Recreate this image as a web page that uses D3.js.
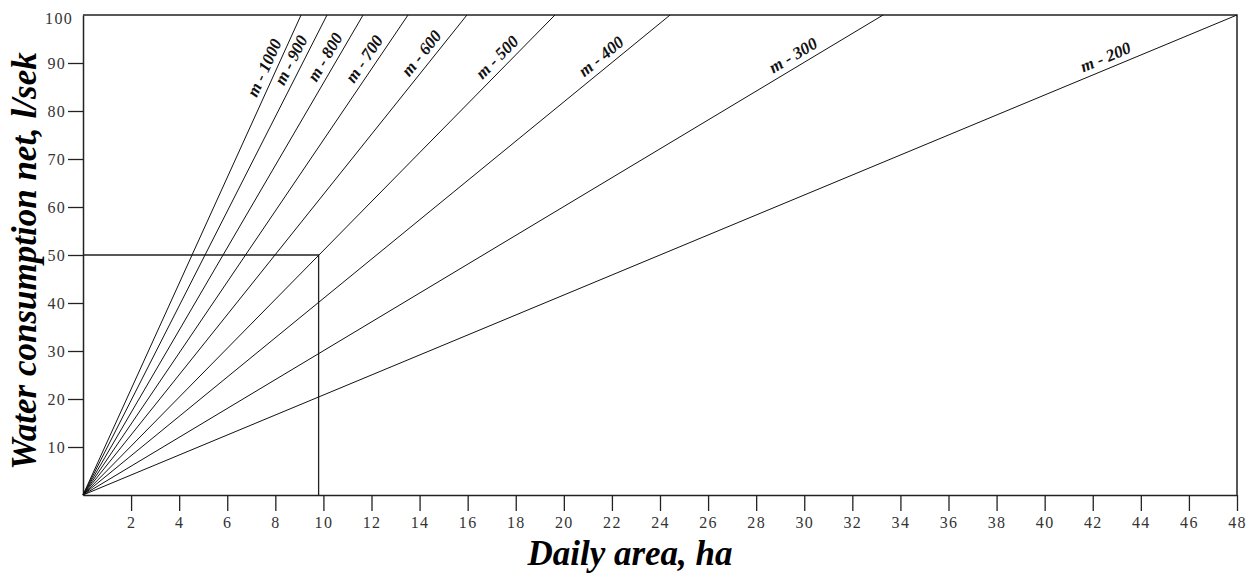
<!DOCTYPE html>
<html>
<head>
<meta charset="utf-8">
<script src="https://cdn.jsdelivr.net/npm/d3@7"></script>
<style>
  body { margin: 0; background: #fff; }
  svg { display: block; font-family: "Liberation Serif", "Times New Roman", serif; }
  .tick text { font-size: 16px; fill: #333; letter-spacing: 1.3px; }
  .tick line, .domain { stroke: #222; }
</style>
</head>
<body>
<svg id="chart" width="1247" height="573"></svg>
<script>
// daily area (ha) vs. net water consumption (l/sek), one line per rate m
var areaTicks = d3.range(2, 49, 2);
var flowTicks = d3.range(10, 101, 10);
var mValues = [1000, 900, 800, 700, 600, 500, 400, 300, 200];
// area where each line hits 100 l/sek
var areaAt100 = [9.07, 10.15, 11.65, 13.52, 15.97, 19.63, 24.42, 33.28, 48];
// flow along each line where its label sits
var labelFlow = [88, 89.5, 90, 89.5, 90.5, 89.5, 89.5, 89.5, 89];
// worked example: 50 l/sek -> 9.8 ha
var guideArea = 9.8, guideFlow = 50;

var svg = d3.select("#chart");
var plotL = 83, plotR = 1237, plotT = 15, plotB = 495;
var serif = '"Liberation Serif", "Times New Roman", serif';

var x = d3.scaleLinear().domain([0, 48]).range([plotL, plotR]);
var y = d3.scaleLinear().domain([0, 100]).range([plotB, plotT]);

// frame (top + right edges)
svg.append("path")
  .attr("d", "M" + x(0) + "," + y(100) + "H" + x(48) + "V" + y(0))
  .attr("fill", "none").attr("stroke", "#222").attr("stroke-width", 1.5);

var xAxis = svg.append("g")
  .attr("transform", "translate(0," + plotB + ")")
  .call(d3.axisBottom(x).tickValues(areaTicks).tickSize(16).tickSizeOuter(0).tickPadding(6))
  .attr("font-family", serif).attr("font-size", 16);
xAxis.select(".domain").attr("stroke-width", 1.5);
xAxis.selectAll(".tick line").attr("stroke-width", 1.3);

var yAxis = svg.append("g")
  .attr("transform", "translate(" + plotL + ",0)")
  .call(d3.axisLeft(y).tickValues(flowTicks).tickSize(15).tickSizeOuter(0).tickPadding(2))
  .attr("font-family", serif).attr("font-size", 16);
yAxis.select(".domain").attr("stroke-width", 1.5);
yAxis.selectAll(".tick line").attr("stroke-width", 1.3);
var top100 = yAxis.selectAll(".tick").filter(function (d) { return d === 100; });
top100.select("line").remove();
top100.select("text").attr("x", -10).attr("dy", "0.55em");

// guide lines
svg.append("path")
  .attr("d", "M" + x(0) + "," + y(guideFlow) + "H" + x(guideArea) + "V" + y(0))
  .attr("fill", "none").attr("stroke", "#222").attr("stroke-width", 1.3);

// m lines
var lines = mValues.map(function (m, i) {
  return { m: m, end: areaAt100[i], lab: labelFlow[i] };
});

svg.append("g").selectAll("line").data(lines).enter().append("line")
  .attr("x1", x(0)).attr("y1", y(0))
  .attr("x2", function (d) { return x(d.end); })
  .attr("y2", y(100))
  .attr("stroke", "#111").attr("stroke-width", 1);

svg.append("g").selectAll("text").data(lines).enter().append("text")
  .attr("transform", function (d) {
    var ang = Math.atan2(y(100) - y(0), x(d.end) - x(0)) * 180 / Math.PI;
    var a = d.lab * d.end / 100;
    return "translate(" + x(a) + "," + y(d.lab) + ") rotate(" + ang + ")";
  })
  .attr("dy", -6)
  .attr("text-anchor", "middle")
  .attr("font-size", 17)
  .attr("font-weight", "bold")
  .attr("font-style", "italic")
  .attr("fill", "#111")
  .text(function (d) { return "m - " + d.m; });

// axis titles
svg.append("text")
  .attr("transform", "translate(36,261) rotate(-90)")
  .attr("text-anchor", "middle")
  .attr("font-size", 35).attr("font-weight", "bold").attr("font-style", "italic")
  .attr("fill", "#000")
  .text("Water consumption net, l/sek");

svg.append("text")
  .attr("x", 630).attr("y", 565)
  .attr("text-anchor", "middle")
  .attr("font-size", 35).attr("font-weight", "bold").attr("font-style", "italic")
  .attr("fill", "#000")
  .text("Daily area, ha");
</script>
</body>
</html>
